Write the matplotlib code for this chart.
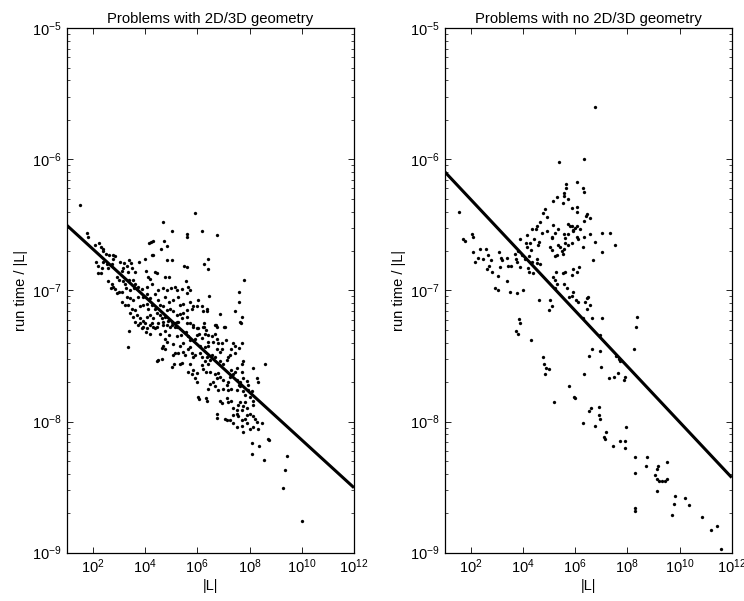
import numpy as np
import matplotlib
matplotlib.use("Agg")
import matplotlib.pyplot as plt
from matplotlib.ticker import LogLocator, NullLocator, LogFormatterSciNotation, NullFormatter

plt.rcParams['font.family'] = ['Liberation Sans', 'DejaVu Sans']
plt.rcParams['mathtext.fontset'] = 'custom'
plt.rcParams['mathtext.rm'] = 'Liberation Sans'

titles = ["Problems with 2D/3D geometry", "Problems with no 2D/3D geometry"]
xlabel = "|L|"
ylabel = "run time / |L|"
xlim = (1e1, 1e12)
ylim = (1e-9, 1e-5)
xtick_vals = [1e2, 1e4, 1e6, 1e8, 1e10, 1e12]

# (log10 |L|, log10 run time/|L|)
geo_points = [
(1.51,-6.35),(5.91,-6.41),(4.67,-6.48),(5.04,-6.55),(5.62,-6.57),(5.59,-6.59),(6.17,-6.55),(6.77,-6.58),
(1.76,-6.56),(1.83,-6.59),(4.21,-6.63),(4.32,-6.62),(4.15,-6.64),(4.74,-6.62),(4.85,-6.66),(4.61,-6.68),
(2.08,-6.65),(2.25,-6.64),(2.30,-6.67),(2.40,-6.68),(2.38,-6.70),(2.50,-6.72),(2.63,-6.73),(2.79,-6.73),
(2.85,-6.74),(2.76,-6.76),(4.25,-6.73),(4.29,-6.73),(4.85,-6.77),(5.04,-6.77),(6.40,-6.76),(6.27,-6.80),
(2.12,-6.78),(2.21,-6.81),(2.40,-6.78),(2.53,-6.80),(2.34,-6.83),(2.59,-6.83),(2.72,-6.80),(3.04,-6.78),
(3.19,-6.79),(3.40,-6.77),(3.45,-6.79),(3.30,-6.81),(3.17,-6.83),(3.10,-6.85),(3.36,-6.86),(3.49,-6.83),
(3.61,-6.86),(3.78,-6.78),(4.00,-6.76),(5.49,-6.81),(5.62,-6.82),(6.42,-6.84),(2.21,-6.87),(2.30,-6.87),
(4.04,-6.85),(4.10,-6.90),(4.19,-6.91),(4.38,-6.86),(4.47,-6.87),(4.76,-6.90),(4.93,-6.90),(5.57,-6.93),
(7.80,-6.92),(2.91,-6.90),(3.02,-6.92),(3.14,-6.93),(3.23,-6.95),(3.40,-6.92),(3.55,-6.92),(3.61,-6.95),
(2.59,-6.93),(2.72,-6.95),(2.79,-6.97),(2.68,-6.98),(2.85,-6.99),(3.02,-7.01),(3.10,-7.01),(2.91,-7.02),
(3.27,-6.98),(3.42,-7.00),(3.58,-6.98),(3.74,-6.97),(3.87,-6.99),(4.06,-6.97),(4.25,-6.95),(4.51,-7.00),
(4.67,-6.98),(4.85,-7.00),(4.98,-6.98),(5.15,-6.97),(5.24,-7.00),(5.40,-6.99),(5.66,-6.97),(5.72,-7.00),
(5.59,-7.02),(7.61,-7.01),(7.61,-7.09),(7.70,-7.20),(7.63,-7.24),(6.46,-7.04),(6.04,-7.07),(5.98,-7.12),
(6.17,-7.12),(6.38,-7.14),(6.23,-7.16),(6.36,-7.16),(6.87,-7.18),(6.68,-7.26),(6.74,-7.28),(7.06,-7.28),
(7.44,-7.16),(6.26,-7.25),(3.30,-7.05),(3.42,-7.06),(3.55,-7.07),(3.74,-7.05),(3.93,-7.05),(4.06,-7.03),
(4.19,-7.06),(4.38,-7.03),(4.51,-7.07),(4.76,-7.05),(4.93,-7.09),(5.08,-7.07),(5.27,-7.05),(5.34,-7.11),
(5.46,-7.10),(5.72,-7.09),(5.78,-7.14),(5.85,-7.12),(5.46,-7.17),(5.59,-7.15),(3.10,-7.09),(3.23,-7.11),
(3.36,-7.11),(3.49,-7.14),(3.61,-7.15),(3.81,-7.12),(3.93,-7.11),(4.06,-7.10),(4.12,-7.14),(4.25,-7.11),
(4.38,-7.14),(4.57,-7.11),(4.70,-7.12),(4.83,-7.15),(4.95,-7.14),(5.08,-7.16),(5.21,-7.19),(5.34,-7.18),
(5.40,-7.21),(5.59,-7.20),(3.42,-7.17),(3.55,-7.20),(3.68,-7.19),(3.81,-7.21),(3.93,-7.23),(4.06,-7.20),
(4.19,-7.19),(4.32,-7.21),(4.44,-7.17),(4.57,-7.19),(4.64,-7.21),(4.76,-7.20),(4.89,-7.23),(5.02,-7.24),
(5.15,-7.25),(5.27,-7.24),(5.72,-7.25),(5.85,-7.28),(5.98,-7.29),(6.26,-7.28),(3.74,-7.26),(3.93,-7.28),
(4.25,-7.25),(4.44,-7.28),(4.70,-7.26),(4.95,-7.28),(5.21,-7.28),
(3.40,-7.31),(3.36,-7.43),(3.61,-7.24),(3.81,-7.25),(4.00,-7.25),(4.19,-7.26),(4.32,-7.28),(4.51,-7.25),
(4.70,-7.24),(4.83,-7.26),(5.02,-7.26),(5.15,-7.28),(5.21,-7.24),(5.59,-7.25),(5.85,-7.26),(6.04,-7.29),
(6.23,-7.28),(6.33,-7.30),(6.72,-7.26),(7.03,-7.28),(7.67,-7.25),(4.04,-7.32),(4.19,-7.33),(4.38,-7.29),
(4.57,-7.33),(4.76,-7.31),(4.93,-7.34),(3.87,-7.29),(4.06,-7.29),(4.76,-7.37),(4.85,-7.39),(4.70,-7.42),
(5.21,-7.35),(5.36,-7.34),(5.57,-7.32),(5.66,-7.35),(5.72,-7.38),(5.91,-7.37),(5.98,-7.34),(6.08,-7.33),
(6.17,-7.36),(6.29,-7.33),(6.42,-7.34),(6.55,-7.35),(6.68,-7.33),(6.74,-7.37),(6.61,-7.39),(6.80,-7.40),
(6.93,-7.40),(7.10,-7.38),(6.42,-7.39),(6.10,-7.42),(6.29,-7.43),(6.42,-7.42),(5.72,-7.43),(5.34,-7.42),
(5.46,-7.40),(5.08,-7.41),(7.38,-7.40),(7.44,-7.42),(7.70,-7.40),(7.61,-7.44),(7.31,-7.45),(7.44,-7.48),
(7.25,-7.49),(4.64,-7.44),(4.76,-7.45),(5.15,-7.48),(5.06,-7.49),(5.27,-7.48),(5.46,-7.47),(5.66,-7.45),
(5.78,-7.48),(5.91,-7.49),(5.53,-7.49),(5.85,-7.51),(6.10,-7.48),(6.17,-7.51),(6.36,-7.51),(6.55,-7.49),
(6.68,-7.51),(6.49,-7.53),(6.29,-7.54),(6.42,-7.56),(6.17,-7.57),(5.72,-7.56),(5.34,-7.56),(5.11,-7.56),
(5.02,-7.58),(5.40,-7.55),(6.87,-7.54),(6.99,-7.56),(7.12,-7.53),(7.19,-7.51),(6.87,-7.47),(6.93,-7.45),
(6.74,-7.45),(7.70,-7.56),(7.76,-7.54),(7.51,-7.59),(7.70,-7.62),(8.14,-7.59),(8.59,-7.56),(4.51,-7.53),
(4.64,-7.52),(4.47,-7.54),(5.66,-7.62),(5.85,-7.61),(5.98,-7.63),(5.91,-7.67),(5.98,-7.70),(5.78,-7.64),
(6.23,-7.60),(6.33,-7.62),(6.49,-7.62),(6.68,-7.64),(6.74,-7.67),(6.61,-7.70),(6.49,-7.71),(6.80,-7.63),
(6.87,-7.66),(6.99,-7.68),(7.19,-7.70),(7.12,-7.72),(7.25,-7.66),(7.38,-7.64),(7.31,-7.61),(7.44,-7.62),
(7.51,-7.68),(7.63,-7.70),(7.76,-7.67),(7.61,-7.72),(7.89,-7.69),(7.95,-7.72),(8.27,-7.67),(8.34,-7.70),
(6.68,-7.73),(6.99,-7.75),(6.80,-7.76),(6.42,-7.75),(7.19,-7.76),(7.31,-7.75),(7.51,-7.76),(7.63,-7.73),
(7.76,-7.77),(7.82,-7.80),(7.95,-7.76),(8.08,-7.77),(8.14,-7.84),(8.02,-7.81),(7.82,-7.85),(7.63,-7.85),
(7.57,-7.87),(7.76,-7.88),(7.31,-7.84),(7.19,-7.85),(7.38,-7.90),(6.87,-7.84),(6.93,-7.86),(7.12,-7.82),
(6.04,-7.81),(6.08,-7.83),(6.33,-7.82),(6.36,-7.84),(8.14,-7.87),(7.89,-7.90),(6.74,-7.94),(6.77,-7.97),
(7.06,-7.98),(7.12,-7.99),(7.38,-7.95),(7.51,-7.94),(7.57,-7.96),(7.70,-7.99),(7.82,-7.98),(7.89,-7.95),
(8.02,-7.94),(8.14,-7.96),(8.21,-7.98),(8.27,-8.00),(8.46,-8.01),(7.38,-8.01),(7.51,-8.04),(7.70,-8.03),
(7.89,-8.01),(8.02,-8.06),(8.14,-8.04),(8.34,-8.06),(7.74,-8.08),(7.25,-7.99),(7.51,-7.91),(7.70,-7.91),
(8.08,-8.16),(8.37,-8.19),(8.72,-8.13),(8.76,-8.14),(8.11,-8.25),(8.56,-8.29),
(9.43,-8.26),(9.36,-8.37),(9.28,-8.51),(10.00,-8.76),
]

nogeo_points = [
(6.76,-5.60),(5.39,-6.02),(6.35,-6.00),(6.08,-6.17),(5.65,-6.19),(5.65,-6.22),(5.59,-6.26),(5.57,-6.28),
(5.29,-6.29),(5.16,-6.32),(6.31,-6.22),(6.35,-6.25),(5.71,-6.30),(5.55,-6.33),(6.06,-6.36),(6.08,-6.40),
(5.87,-6.37),(6.44,-6.42),(6.40,-6.43),(6.57,-6.45),(6.34,-6.47),(4.84,-6.38),(4.78,-6.41),(4.93,-6.44),
(4.65,-6.48),(5.14,-6.50),(5.36,-6.53),(5.23,-6.56),(4.33,-6.53),(4.52,-6.51),(4.50,-6.53),(4.14,-6.58),
(4.72,-6.56),(4.91,-6.55),(5.10,-6.59),(5.74,-6.49),(5.80,-6.51),(5.87,-6.51),(5.93,-6.54),(6.00,-6.52),
(6.08,-6.51),(6.19,-6.53),(5.90,-6.55),(5.74,-6.57),(6.06,-6.59),(5.57,-6.57),(5.61,-6.60),(6.12,-6.61),
(6.35,-6.59),(6.57,-6.57),(7.02,-6.56),(7.34,-6.56),(1.56,-6.40),(1.71,-6.61),(2.03,-6.57),(2.10,-6.59),
(3.89,-6.61),(4.44,-6.61),(5.10,-6.60),
(1.78,-6.62),(2.10,-6.71),(2.16,-6.78),(2.35,-6.68),(2.58,-6.68),(2.29,-6.75),(2.48,-6.76),(2.67,-6.73),
(2.76,-6.77),(2.71,-6.81),(2.61,-6.84),(2.80,-6.86),(3.09,-6.71),(3.15,-6.75),(3.18,-6.77),(3.12,-6.82),
(3.37,-6.75),(3.44,-6.81),(3.53,-6.81),(3.69,-6.72),(3.73,-6.76),(3.82,-6.70),(3.78,-6.78),(3.95,-6.73),
(3.89,-6.82),(4.12,-6.64),(4.27,-6.64),(4.17,-6.67),(4.30,-6.69),(4.59,-6.65),(4.63,-6.63),(4.08,-6.76),
(4.24,-6.74),(4.33,-6.78),(4.52,-6.76),(4.52,-6.79),(4.65,-6.80),(4.21,-6.83),(4.24,-6.86),(4.37,-6.87),
(3.06,-6.89),(3.38,-6.93),(2.93,-6.98),(3.06,-7.00),(3.50,-7.01),(3.78,-7.02),(4.01,-7.00),(5.04,-6.67),
(5.10,-6.69),(5.36,-6.65),(5.42,-6.67),(5.48,-6.70),(5.57,-6.68),(5.52,-6.72),(5.29,-6.73),(5.23,-6.74),
(5.61,-6.64),(5.74,-6.65),(5.87,-6.64),(6.31,-6.67),(6.76,-6.63),(7.53,-6.65),(7.02,-6.71),(6.70,-6.77),
(6.16,-6.82),(6.08,-6.86),(5.93,-6.84),(5.87,-6.88),(5.61,-6.86),(5.52,-6.87),(5.27,-6.86),(5.16,-6.90),
(5.23,-6.92),(5.29,-6.95),(5.23,-6.98),(5.57,-6.95),(5.67,-6.98),(5.78,-7.05),(5.87,-7.04),(5.93,-7.01),
(6.03,-7.07),(6.12,-7.09),(6.44,-7.06),(6.51,-7.05),(6.38,-7.09),(6.44,-7.14),(6.57,-7.11),(6.63,-7.21),
(6.31,-7.21),(7.02,-7.21),(4.63,-7.07),(5.04,-7.07),(5.10,-7.12),(5.01,-7.15),
(3.83,-7.22),(3.90,-7.25),(3.74,-7.31),(3.80,-7.33),(4.32,-7.38),(4.75,-7.51),(4.82,-7.56),(4.89,-7.59),
(4.86,-7.64),(4.98,-7.60),(5.18,-7.85),(5.75,-7.73),(5.94,-7.81),(6.01,-7.82),(6.29,-8.01),(6.52,-7.92),
(6.62,-7.90),(6.75,-8.03),(6.90,-7.89),(6.90,-7.95),(6.96,-7.98),(7.09,-8.12),(7.13,-8.13),(7.18,-8.08),
(7.44,-8.19),(7.73,-8.15),(7.90,-8.15),(7.90,-8.20),(7.95,-8.04),(6.35,-7.64),(6.53,-7.50),(6.65,-7.45),
(6.94,-7.46),(6.98,-7.58),(7.31,-7.67),(7.48,-7.66),(7.64,-7.63),(7.58,-7.50),(7.67,-7.52),(7.73,-7.54),
(7.90,-7.66),(7.86,-7.68),(6.96,-7.34),(8.37,-7.20),(8.33,-7.28),(8.27,-7.45),(8.28,-8.27),(8.28,-8.39),
(8.31,-8.66),(8.31,-8.68),(8.75,-8.27),(8.72,-8.34),(9.07,-8.41),(9.14,-8.44),(9.16,-8.34),(9.14,-8.36),
(9.20,-8.45),(9.33,-8.45),(9.43,-8.45),(9.52,-8.44),(9.52,-8.31),(9.14,-8.53),(9.71,-8.71),(9.77,-8.63),
(9.84,-8.57),(10.20,-8.58),(10.35,-8.64),(10.86,-8.73),(11.22,-8.83),(11.44,-8.80),(11.60,-8.97),
]

# fitted trend lines (end points)
fit_L = [1e1, 1e12]
geo_fit = [3.15e-7, 3.13e-9]
nogeo_fit = [8.05e-7, 3.74e-9]

fig = plt.figure(figsize=(7.44, 6.01), dpi=100)
axL = fig.add_axes([0.0896, 0.0804, 0.3862, 0.8726])
axR = fig.add_axes([0.5977, 0.0804, 0.3858, 0.8726])

for ax, pts, fit, title in [(axL, geo_points, geo_fit, titles[0]),
                            (axR, nogeo_points, nogeo_fit, titles[1])]:
    arr = np.array(pts)
    ax.set_xscale('log')
    ax.set_yscale('log')
    ax.plot(10.0 ** arr[:, 0], 10.0 ** arr[:, 1], linestyle='none', marker='o',
            markersize=2.2, markerfacecolor='black', markeredgecolor='black',
            markeredgewidth=0.2, zorder=3)
    ax.plot(fit_L, fit, color='black', linewidth=2.2, zorder=4, solid_capstyle='butt')
    ax.set_xlim(*xlim)
    ax.set_ylim(*ylim)
    ax.set_xticks(xtick_vals)
    ax.xaxis.set_major_formatter(LogFormatterSciNotation())
    ax.xaxis.set_minor_locator(NullLocator())
    ax.xaxis.set_minor_formatter(NullFormatter())
    ax.yaxis.set_major_locator(LogLocator(base=10, numticks=10))
    ax.yaxis.set_minor_locator(LogLocator(base=10, subs=np.arange(2, 10), numticks=20))
    ax.yaxis.set_minor_formatter(NullFormatter())
    ax.tick_params(which='both', direction='in', top=True, right=True, labelsize=10.5)
    ax.tick_params(which='major', length=4, width=0.6)
    ax.tick_params(which='minor', length=2.2, width=0.5)
    for s in ax.spines.values():
        s.set_linewidth(0.9)
    ax.set_title(title, fontsize=10.7, pad=4)
    ax.set_xlabel(xlabel, fontsize=10.5, labelpad=2)
    ax.set_ylabel(ylabel, fontsize=10.5, labelpad=3)

fig.savefig("out.png", dpi=100)
